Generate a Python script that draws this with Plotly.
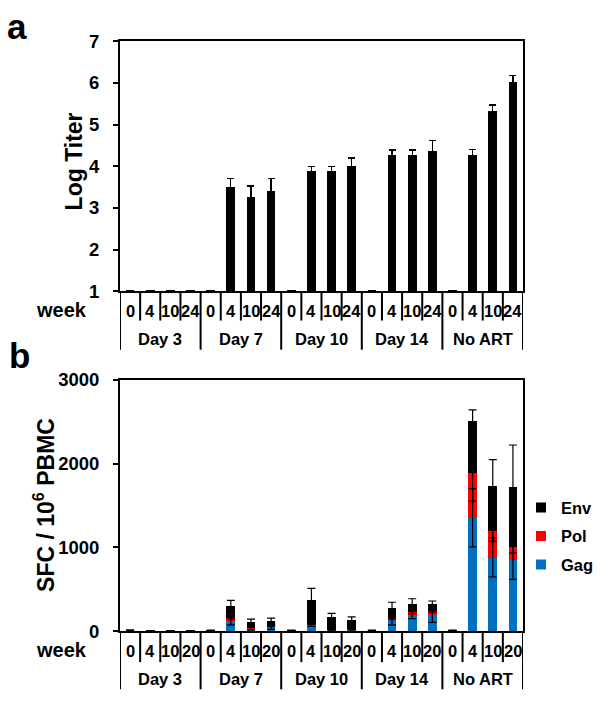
import numpy as np
import plotly.graph_objects as go

# ---------------- data ----------------
groups = ["Day 3", "Day 7", "Day 10", "Day 14", "No ART"]
weeks_a = ["0", "4", "10", "24"]
weeks_b = ["0", "4", "10", "20"]

# panel a: log titer (per group: week 0, 4, 10, 24)
log_titer = [1.03, 1.03, 1.03, 1.03,
             1.03, 3.51, 3.26, 3.40,
             1.03, 3.89, 3.89, 4.01,
             1.03, 4.27, 4.27, 4.37,
             1.03, 4.28, 5.33, 6.02]
log_titer_err = [None, None, None, None,
                 None, 0.19, 0.27, 0.30,
                 None, 0.11, 0.11, 0.19,
                 None, 0.12, 0.12, 0.24,
                 None, 0.12, 0.14, 0.15]

# panel b: SFC / 10^6 PBMC (per group: week 0, 4, 10, 20)
gag = [3, 1, 1, 1,
       3, 124, 35, 46,
       3, 75, 20, 25,
       3, 143, 193, 189,
       3, 1352, 880, 849]
pol = [2, 1, 1, 1,
       2, 38, 20, 20,
       2, 10, 5, 5,
       2, 19, 35, 58,
       2, 536, 317, 159]
env = [10, 4, 4, 4,
       8, 143, 57, 58,
       8, 289, 145, 101,
       8, 120, 100, 74,
       8, 617, 537, 714]
gag_err = [None, None, None, None,
           None, 50, 20, 25,
           None, 20, 10, 10,
           None, 70, 45, 85,
           None, 348, 232, 232]
pol_err = [None, None, None, None,
           None, 20, 10, 10,
           None, 5, 5, 5,
           None, 20, 20, 20,
           None, 336, 124, 75]
env_err = [None, None, None, None,
           None, 62, 31, 30,
           None, 136, 42, 39,
           None, 62, 58, 38,
           None, 135, 313, 499]

series_names = ["Gag", "Pol", "Env"]
series_colors = ["#0070C0", "#FF0000", "#000000"]

# ---------------- layout helpers ----------------
W, H = 601, 709
FONT = "Liberation Sans, Arial, sans-serif"


def fx(p):
    return p / W


def fy(p):
    return 1 - p / H


n = len(groups) * len(weeks_a)
xi = np.arange(n)

PLOT_L, PLOT_R = 120, 523
A_TOP, A_BASE = 31, 289
B_TOP, B_BASE = 380, 639

fig = go.Figure()

# ---------------- panel a ----------------
fig.add_trace(go.Bar(
    x=xi, y=log_titer, width=0.43, marker=dict(color="black", line=dict(width=0)),
    error_y=dict(type="data", array=log_titer_err, symmetric=True,
                 color="black", thickness=1.3, width=3.5),
    xaxis="x", yaxis="y", showlegend=False))

# ---------------- panel b ----------------
for name, vals, col in zip(series_names, [gag, pol, env], series_colors):
    fig.add_trace(go.Bar(
        x=xi, y=vals, width=0.43, name=name,
        marker=dict(color=col, line=dict(width=0)),
        xaxis="x2", yaxis="y2", showlegend=False))

# error bars at the top of each stacked segment, drawn above all bars
cum = np.cumsum(np.array([gag, pol, env], dtype=float), axis=0)
for k, errs in enumerate([gag_err, pol_err, env_err]):
    fig.add_trace(go.Scatter(
        x=xi, y=cum[k], mode="markers",
        marker=dict(size=1, color="rgba(0,0,0,0)"),
        error_y=dict(type="data", array=errs, symmetric=True,
                     color="black", thickness=1.2, width=4),
        xaxis="x2", yaxis="y2", showlegend=False, hoverinfo="skip"))

# legend entries (Env, Pol, Gag top to bottom)
for name, col in reversed(list(zip(series_names, series_colors))):
    fig.add_trace(go.Scatter(
        x=[None], y=[None], mode="markers", name=name, legendgroup=name,
        marker=dict(symbol="square", size=10, color=col),
        xaxis="x2", yaxis="y2", showlegend=True))

axis_common = dict(showline=True, linecolor="black", linewidth=2, mirror=True,
                   showgrid=False, zeroline=False)

fig.update_layout(
    width=W, height=H,
    margin=dict(l=0, r=0, t=0, b=0),
    paper_bgcolor="white", plot_bgcolor="white",
    font=dict(family=FONT, color="black"),
    barmode="stack",
    bargap=0,
    xaxis=dict(domain=[fx(PLOT_L), fx(PLOT_R)], range=[-0.5, n - 0.5],
               showticklabels=False, ticks="", anchor="y", **axis_common),
    yaxis=dict(domain=[fy(A_BASE), fy(A_TOP)], range=[1, 7], tickvals=[1, 2, 3, 4, 5, 6, 7],
               ticks="outside", ticklen=5, tickwidth=1.5, tickcolor="black",
               ticklabelstandoff=10,
               tickfont=dict(size=18.5, family=FONT, weight="bold"), anchor="x", **axis_common),
    xaxis2=dict(domain=[fx(PLOT_L), fx(PLOT_R)], range=[-0.5, n - 0.5],
                showticklabels=False, ticks="", anchor="y2", **axis_common),
    yaxis2=dict(domain=[fy(B_BASE), fy(B_TOP)], range=[0, 3000], tickvals=[0, 1000, 2000, 3000],
                ticks="outside", ticklen=5, tickwidth=1.5, tickcolor="black",
                ticklabelstandoff=10,
                tickfont=dict(size=18.5, family=FONT, weight="bold"), anchor="x2", **axis_common),
    showlegend=True,
    legend=dict(x=fx(521), xanchor="left", y=fy(494), yanchor="top",
                bgcolor="rgba(0,0,0,0)", tracegroupgap=4, traceorder="grouped",
                font=dict(size=16.5, family=FONT, weight="bold")),
)

shapes = []
annotations = []


def category_axis(xref, base, week_bottom, group_bottom, week_y, group_y, week_labels):
    nw = len(week_labels)
    for b in range(n + 1):
        xpos = b - 0.5
        long_line = (b % nw == 0)
        shapes.append(dict(type="line", xref=xref, yref="paper",
                           x0=xpos, x1=xpos, y0=fy(base),
                           y1=fy(group_bottom if long_line else week_bottom),
                           line=dict(color="black", width=2)))
    for i in range(n):
        annotations.append(dict(text=week_labels[i % nw], xref=xref, yref="paper",
                                x=i, y=fy(week_y), showarrow=False,
                                xanchor="center", yanchor="middle",
                                font=dict(size=16.5, family=FONT, weight="bold")))
    for g, gname in enumerate(groups):
        annotations.append(dict(text=gname, xref=xref, yref="paper",
                                x=g * nw + (nw - 1) / 2, y=fy(group_y), showarrow=False,
                                xanchor="center", yanchor="middle",
                                font=dict(size=16.5, family=FONT, weight="bold")))
    annotations.append(dict(text="week", xref="paper", yref="paper",
                            x=fx(89), y=fy(week_y - 1), showarrow=False,
                            xanchor="right", yanchor="middle",
                            font=dict(size=20, family=FONT, weight="bold")))


category_axis("x", A_BASE, 319, 349, 309, 338, weeks_a)
category_axis("x2", B_BASE, 671, 699, 660, 688, weeks_b)

# axis titles
annotations.append(dict(text="Log Titer", xref="paper", yref="paper",
                        x=fx(74), y=fy(155), showarrow=False, textangle=-90,
                        xanchor="center", yanchor="middle",
                        font=dict(size=23, family=FONT, weight="bold")))
annotations.append(dict(text="SFC / 10<sup>6</sup> PBMC", xref="paper", yref="paper",
                        x=fx(44), y=fy(509), showarrow=False, textangle=-90,
                        xanchor="center", yanchor="middle",
                        font=dict(size=23, family=FONT, weight="bold")))
# panel letters
annotations.append(dict(text="a", xref="paper", yref="paper", x=fx(17), y=fy(16),
                        showarrow=False, xanchor="center", yanchor="middle",
                        font=dict(size=35, family=FONT, weight="bold")))
annotations.append(dict(text="b", xref="paper", yref="paper", x=fx(19), y=fy(355),
                        showarrow=False, xanchor="center", yanchor="middle",
                        font=dict(size=35, family=FONT, weight="bold")))

fig.update_layout(shapes=shapes, annotations=annotations)

fig.write_html("out.html", config={"displayModeBar": False, "responsive": False},
               post_script="document.body.style.margin='0px';")
